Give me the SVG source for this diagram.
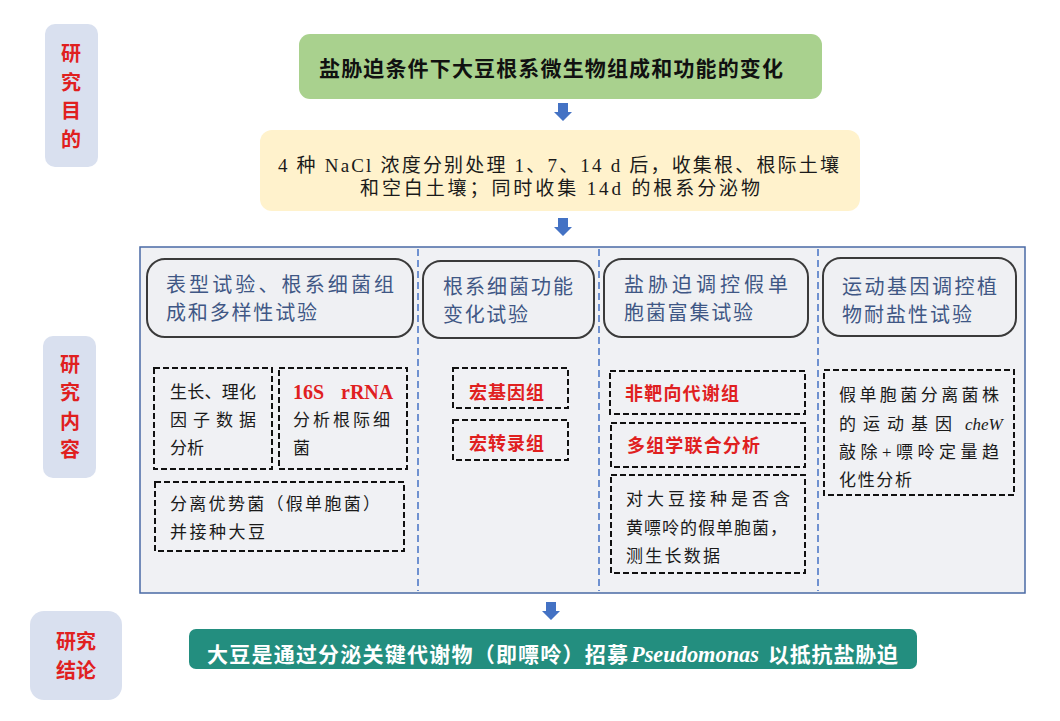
<svg xmlns="http://www.w3.org/2000/svg" xmlns:xlink="http://www.w3.org/1999/xlink" width="1060" height="721" viewBox="0 0 1060 721">
<style>
.lab{fill:#d9e0ef}
.labt{font-family:"Noto Sans CJK SC",sans-serif;font-weight:bold;font-size:20px;fill:#e0201f;text-anchor:middle}
.body{font-family:"Liberation Serif","Noto Sans CJK SC",serif;font-size:19px;fill:#1a1a1a}
.head{fill:#eff0f3;stroke:#3a3a3a;stroke-width:2}
.headt{font-family:"Noto Sans CJK SC",sans-serif;font-size:20px;fill:#3f5785}
.dash{fill:none;stroke:#111;stroke-width:2;stroke-dasharray:6 3}
.sm{font-family:"Liberation Serif","Noto Sans CJK SC",serif;font-size:17px;fill:#1a1a1a}
.red{font-family:"Liberation Serif","Noto Sans CJK SC",serif;font-size:18px;font-weight:bold;fill:#e0201f}
.sep{stroke:#4472c4;stroke-width:1.5;stroke-dasharray:7 4}
.arr{fill:#4472c4}
</style>
<defs>
<path id="arrow" d="M-5,0 H5 V9 H9 L0,18 L-9,9 H-5 Z"/>
</defs>
<rect width="1060" height="721" fill="#fff"/>

<g id="label-aim">
<rect class="lab" x="45" y="24" width="53" height="143" rx="10"/>
<text class="labt" x="71" y="61">研</text>
<text class="labt" x="71" y="90">究</text>
<text class="labt" x="71" y="118">目</text>
<text class="labt" x="71" y="147">的</text>
</g>
<g id="label-content">
<rect class="lab" x="43" y="336" width="53" height="142" rx="10"/>
<text class="labt" x="70" y="372">研</text>
<text class="labt" x="70" y="400">究</text>
<text class="labt" x="70" y="429">内</text>
<text class="labt" x="70" y="457">容</text>
</g>
<g id="label-conclusion">
<rect class="lab" x="30" y="611" width="92" height="89" rx="14"/>
<text class="labt" x="76" y="649">研究</text>
<text class="labt" x="76" y="678">结论</text>
</g>

<g id="aim">
<rect x="299" y="34" width="523" height="65" rx="11" fill="#a9d18e"/>
<text x="319" y="76" textLength="464" lengthAdjust="spacing" style="font-family:'Noto Sans CJK SC',sans-serif;font-weight:bold;font-size:21px;fill:#111">盐胁迫条件下大豆根系微生物组成和功能的变化</text>
</g>

<g id="sampling">
<rect x="260" y="130" width="600" height="81" rx="12" fill="#fff2cc"/>
<text class="body" x="278" y="172" textLength="561" lengthAdjust="spacing">4 种 NaCl 浓度分别处理 1、7、14 d 后，收集根、根际土壤</text>
<text class="body" x="360" y="195" textLength="400" lengthAdjust="spacing">和空白土壤；同时收集 14d 的根系分泌物</text>
</g>

<g id="content-panel">
<rect x="140" y="247" width="885" height="346" fill="#f0f1f4" stroke="#4a6aa5" stroke-width="1.5"/>
</g>

<g id="connectors">
<use href="#arrow" class="arr" x="563" y="103"/>
<use href="#arrow" class="arr" x="563" y="218"/>
<use href="#arrow" class="arr" x="551" y="602"/>
<line class="sep" x1="418" y1="249" x2="418" y2="591"/>
<line class="sep" x1="599" y1="249" x2="599" y2="591"/>
<line class="sep" x1="818" y1="249" x2="818" y2="591"/>
</g>

<g id="col1-head">
<rect class="head" x="147" y="259" width="266" height="78" rx="18"/>
<text class="headt" x="166" y="292" textLength="228" lengthAdjust="spacing">表型试验、根系细菌组</text>
<text class="headt" x="166" y="320" textLength="151" lengthAdjust="spacing">成和多样性试验</text>
</g>
<g id="col1-growth">
<rect class="dash" x="154" y="368" width="118" height="101"/>
<text class="sm" x="170" y="398" textLength="86" lengthAdjust="spacing">生长、理化</text>
<text class="sm" x="170" y="426" textLength="86" lengthAdjust="spacing">因子数据</text>
<text class="sm" x="170" y="454">分析</text>
</g>
<g id="col1-16s">
<rect class="dash" x="279" y="368" width="128" height="101"/>
<text class="red" x="293" y="399" style="font-size:20px">16S</text>
<text class="red" x="341" y="399" style="font-size:20px">rRNA</text>
<text class="sm" x="293" y="426" textLength="97" lengthAdjust="spacing">分析根际细</text>
<text class="sm" x="293" y="454">菌</text>
</g>
<g id="col1-isolate">
<rect class="dash" x="155" y="482" width="249" height="69"/>
<text class="sm" x="170" y="510" textLength="210" lengthAdjust="spacing">分离优势菌（假单胞菌）</text>
<text class="sm" x="170" y="538" textLength="95" lengthAdjust="spacing">并接种大豆</text>
</g>

<g id="col2-head">
<rect class="head" x="423" y="261" width="171" height="77" rx="18"/>
<text class="headt" x="443" y="294" textLength="130" lengthAdjust="spacing">根系细菌功能</text>
<text class="headt" x="443" y="322" textLength="85" lengthAdjust="spacing">变化试验</text>
</g>
<g id="col2-metagenome">
<rect class="dash" x="453" y="368" width="115" height="40"/>
<text class="red" x="469" y="399" textLength="75" lengthAdjust="spacing">宏基因组</text>
</g>
<g id="col2-metatranscriptome">
<rect class="dash" x="453" y="420" width="115" height="40"/>
<text class="red" x="469" y="450" textLength="75" lengthAdjust="spacing">宏转录组</text>
</g>

<g id="col3-head">
<rect class="head" x="604" y="259" width="204" height="78" rx="18"/>
<text class="headt" x="624" y="292" textLength="164" lengthAdjust="spacing">盐胁迫调控假单</text>
<text class="headt" x="624" y="320" textLength="129" lengthAdjust="spacing">胞菌富集试验</text>
</g>
<g id="col3-metabolome">
<rect class="dash" x="610" y="371" width="195" height="43"/>
<text class="red" x="625" y="400" textLength="114" lengthAdjust="spacing">非靶向代谢组</text>
</g>
<g id="col3-multiomics">
<rect class="dash" x="611" y="423" width="194" height="44"/>
<text class="red" x="627" y="452" textLength="133" lengthAdjust="spacing">多组学联合分析</text>
</g>
<g id="col3-inoculation">
<rect class="dash" x="611" y="475" width="194" height="98"/>
<text class="sm" x="626" y="505" textLength="164" lengthAdjust="spacing">对大豆接种是否含</text>
<text class="sm" x="626" y="534" textLength="161" lengthAdjust="spacing">黄嘌呤的假单胞菌，</text>
<text class="sm" x="626" y="562" textLength="94" lengthAdjust="spacing">测生长数据</text>
</g>

<g id="col4-head">
<rect class="head" x="823" y="258" width="193" height="78" rx="18"/>
<text class="headt" x="842" y="294" textLength="155" lengthAdjust="spacing">运动基因调控植</text>
<text class="headt" x="842" y="322" textLength="130" lengthAdjust="spacing">物耐盐性试验</text>
</g>
<g id="col4-chew">
<rect class="dash" x="824" y="370" width="190" height="125"/>
<text class="sm" x="839" y="401" textLength="160" lengthAdjust="spacing">假单胞菌分离菌株</text>
<text class="sm" x="839" y="430" textLength="113" lengthAdjust="spacing">的运动基因</text>
<text class="sm" x="965" y="430" font-style="italic">cheW</text>
<text class="sm" x="839" y="458" textLength="160" lengthAdjust="spacing">敲除+嘌呤定量趋</text>
<text class="sm" x="839" y="486" textLength="73" lengthAdjust="spacing">化性分析</text>
</g>

<g id="conclusion">
<rect x="189" y="629" width="728" height="40" rx="7" fill="#238e7f"/>
<text x="207" y="662" textLength="421" lengthAdjust="spacing" style="font-family:'Noto Sans CJK SC',sans-serif;font-weight:bold;font-size:21px;fill:#fff">大豆是通过分泌关键代谢物（即嘌呤）招募</text>
<text x="631" y="662" textLength="128" lengthAdjust="spacingAndGlyphs" style="font-family:'Liberation Serif',serif;font-weight:bold;font-style:italic;font-size:24px;fill:#fff">Pseudomonas</text>
<text x="768" y="662" textLength="130" lengthAdjust="spacing" style="font-family:'Noto Sans CJK SC',sans-serif;font-weight:bold;font-size:21px;fill:#fff">以抵抗盐胁迫</text>
</g>
</svg>
